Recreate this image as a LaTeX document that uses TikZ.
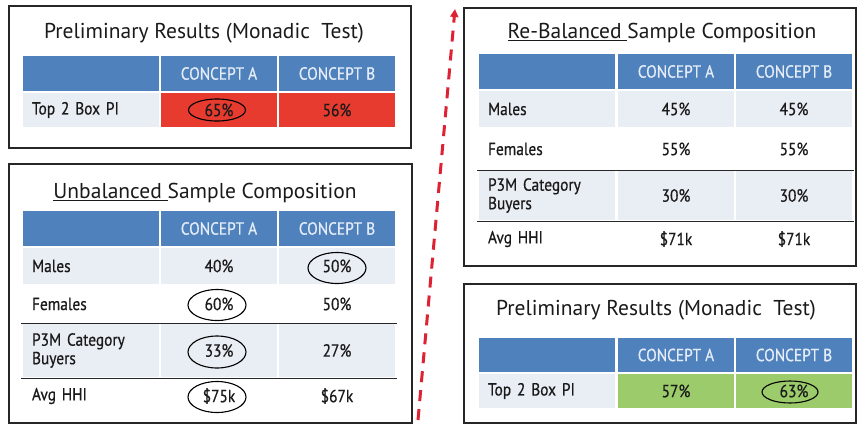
\documentclass[tikz,border=0pt]{standalone}
\usepackage{fontspec}
\setmainfont{PT Sans}
\newfontfamily\bodyfont[FakeStretch=0.88,FakeBold=0.6]{PT Sans}
\usetikzlibrary{arrows.meta,shapes.geometric}
\definecolor{hdrblue}{HTML}{4F81BD}
\definecolor{rowlight}{HTML}{E9EDF4}
\definecolor{redcell}{HTML}{E63B2E}
\definecolor{greencell}{HTML}{9BCB6A}
\definecolor{headtxt}{HTML}{E4ECF7}
\definecolor{txtdark}{HTML}{1A1A1A}
\definecolor{panelline}{HTML}{262626}
\definecolor{arrowred}{HTML}{DD2233}
\tikzset{
  cellbase/.style={rectangle, draw=white, line width=1.2pt, inner sep=0pt,
    font=\bodyfont\fontsize{17.5}{18.5}\selectfont, text=txtdark},
  hdr/.style={cellbase, fill=hdrblue, text=headtxt},
  lbl/.style={cellbase, align=left, text width=118pt, minimum width=138pt},
  val/.style={cellbase, minimum width=118pt},
  panel/.style={draw=panelline, line width=1.6pt, fill=white},
  ptitle/.style={font=\fontsize{21.5}{24}\selectfont, text=txtdark, inner sep=0pt},
  ring/.style={ellipse, draw=black, line width=1.1pt, inner sep=0pt},
  sepline/.style={draw=panelline, line width=1.2pt},
}
\begin{document}
\begin{tikzpicture}[x=1pt,y=-1pt]
\useasboundingbox (0,0) rectangle (857,424);

% ---------- Panel 1 ----------
\node[panel, minimum width=402pt, minimum height=142pt, anchor=north west] (p1) at (8,5) {};
\node[ptitle] (t1) at (204,33) {Preliminary Results (Monadic\ \ Test)};
\node[hdr, minimum width=138pt, minimum height=37pt] (a00) at (91,73.5) {};
\node[hdr, minimum width=118pt, minimum height=37pt] (a01) at (219,73.5) {CONCEPT A};
\node[hdr, minimum width=118pt, minimum height=37pt] (a02) at (337,73.5) {CONCEPT B};
\node[lbl, fill=rowlight, minimum height=36pt] (a10) at (91,110) {Top 2 Box PI};
\node[val, fill=redcell, minimum height=36pt] (a11) at (219,110) {65\%};
\node[val, fill=redcell, minimum height=36pt] (a12) at (337,110) {56\%};
\node[ring, minimum width=57pt, minimum height=22pt] (r65) at (217,110) {};

% ---------- Panel 2 ----------
\node[panel, minimum width=403pt, minimum height=259pt, anchor=north west] (p2) at (8,163) {};
\node[ptitle] (t2) at (205,193) {\underline{Unbalanced\ }Sample Composition};
\node[hdr, minimum width=138pt, minimum height=37pt] (b00) at (91,228.5) {};
\node[hdr, minimum width=118pt, minimum height=37pt] (b01) at (219,228.5) {CONCEPT A};
\node[hdr, minimum width=118pt, minimum height=37pt] (b02) at (337,228.5) {CONCEPT B};
\node[lbl, fill=rowlight, minimum height=38pt] (b10) at (91,266) {Males};
\node[val, fill=rowlight, minimum height=38pt] (b11) at (219,266) {40\%};
\node[val, fill=rowlight, minimum height=38pt] (b12) at (337,266) {50\%};
\node[lbl, fill=white, minimum height=38pt] (b20) at (91,304) {Females};
\node[val, fill=white, minimum height=38pt] (b21) at (219,304) {60\%};
\node[val, fill=white, minimum height=38pt] (b22) at (337,304) {50\%};
\node[lbl, fill=rowlight, minimum height=55pt] (b30) at (91,350.5) {P3M Category\\Buyers};
\node[val, fill=rowlight, minimum height=55pt] (b31) at (219,350.5) {33\%};
\node[val, fill=rowlight, minimum height=55pt] (b32) at (337,350.5) {27\%};
\node[lbl, fill=white, minimum height=36pt] (b40) at (91,396) {Avg HHI};
\node[val, fill=white, minimum height=36pt] (b41) at (219,396) {\$75k};
\node[val, fill=white, minimum height=36pt] (b42) at (337,396) {\$67k};
\draw[sepline] (b20.south west) -- (b22.south east);
\draw[sepline] (b30.south west) -- (b32.south east);
\node[ring, minimum width=58pt, minimum height=31pt] (r50) at (337,268) {};
\node[ring, minimum width=58pt, minimum height=31pt] (r60) at (217,305) {};
\node[ring, minimum width=58pt, minimum height=32pt] (r33) at (217,352) {};
\node[ring, minimum width=58pt, minimum height=31pt] (r75) at (217,397) {};

% ---------- Panel 3 ----------
\node[panel, minimum width=392pt, minimum height=258pt, anchor=north west] (p3) at (463,7) {};
\node[ptitle] (t3) at (662,33) {\underline{Re-Balanced\ }Sample Composition};
\node[hdr, minimum width=138pt, minimum height=37pt] (c00) at (547,71.5) {};
\node[hdr, minimum width=118pt, minimum height=37pt] (c01) at (676,71.5) {CONCEPT A};
\node[hdr, minimum width=118pt, minimum height=37pt] (c02) at (794,71.5) {CONCEPT B};
\node[lbl, fill=rowlight, minimum height=38pt] (c10) at (547,109) {Males};
\node[val, fill=rowlight, minimum height=38pt] (c11) at (676,109) {45\%};
\node[val, fill=rowlight, minimum height=38pt] (c12) at (794,109) {45\%};
\node[lbl, fill=white, minimum height=42pt] (c20) at (547,149) {Females};
\node[val, fill=white, minimum height=42pt] (c21) at (676,149) {55\%};
\node[val, fill=white, minimum height=42pt] (c22) at (794,149) {55\%};
\node[lbl, fill=rowlight, minimum height=51pt] (c30) at (547,195.5) {P3M Category\\Buyers};
\node[val, fill=rowlight, minimum height=51pt] (c31) at (676,195.5) {30\%};
\node[val, fill=rowlight, minimum height=51pt] (c32) at (794,195.5) {30\%};
\node[lbl, fill=white, minimum height=36pt] (c40) at (547,239) {Avg HHI};
\node[val, fill=white, minimum height=36pt] (c41) at (676,239) {\$71k};
\node[val, fill=white, minimum height=36pt] (c42) at (794,239) {\$71k};
\draw[sepline] (c20.south west) -- (c22.south east);
\draw[sepline] (c30.south west) -- (c32.south east);

% ---------- Panel 4 ----------
\node[panel, minimum width=392pt, minimum height=139pt, anchor=north west] (p4) at (463,283) {};
\node[ptitle] (t4) at (656,310) {Preliminary Results (Monadic\ \ Test)};
\node[hdr, minimum width=138pt, minimum height=36pt] (d00) at (547,355) {};
\node[hdr, minimum width=118pt, minimum height=36pt] (d01) at (676,355) {CONCEPT A};
\node[hdr, minimum width=118pt, minimum height=36pt] (d02) at (794,355) {CONCEPT B};
\node[lbl, fill=rowlight, minimum height=36pt] (d10) at (547,391) {Top 2 Box PI};
\node[val, fill=greencell, minimum height=36pt] (d11) at (676,391) {57\%};
\node[val, fill=greencell, minimum height=36pt] (d12) at (794,391) {63\%};
\node[ring, minimum width=56pt, minimum height=22pt] (r63) at (790,392) {};

% ---------- Arrow ----------
\coordinate (arrS) at (418,420);
\coordinate (arrE) at (455,9);
\draw[arrowred, line width=3pt, dash pattern=on 11pt off 8pt,
  -{Triangle[length=8pt,width=8pt]}] (arrS) -- (arrE);
\end{tikzpicture}
\end{document}
